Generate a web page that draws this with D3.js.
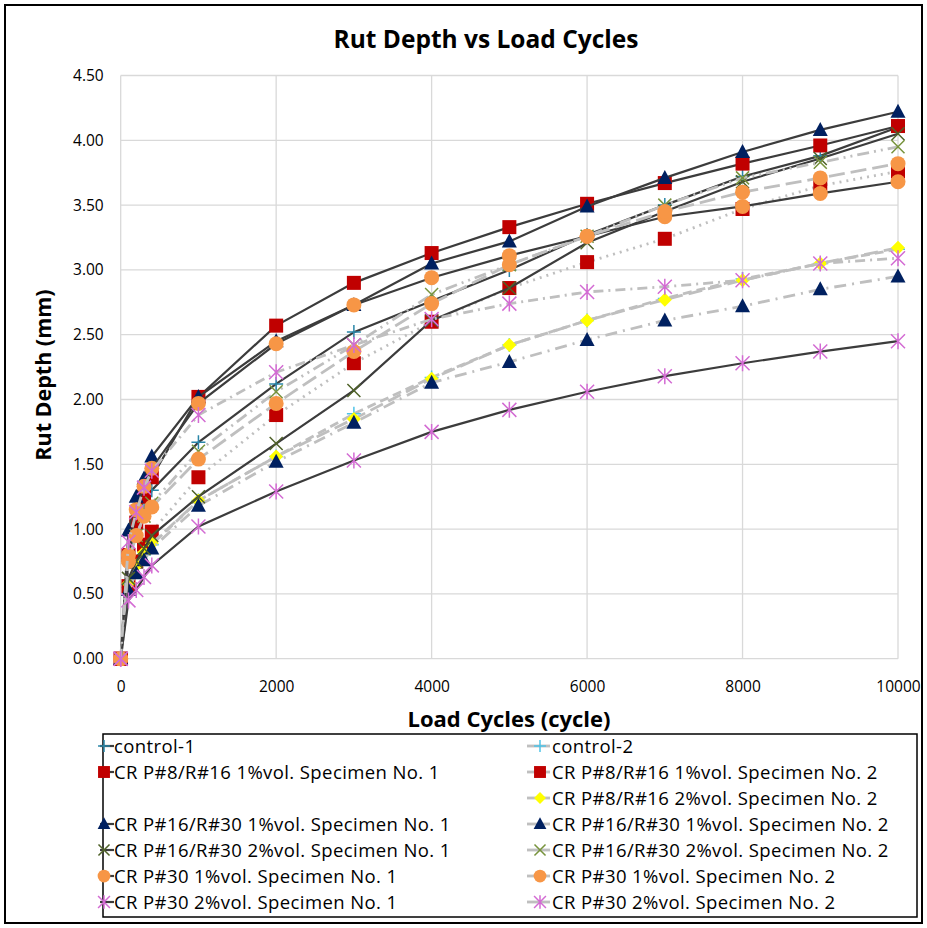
<!DOCTYPE html>
<html><head><meta charset="utf-8">
<script src="https://cdn.jsdelivr.net/npm/d3@7"></script>
<style>body{margin:0;background:#fff} svg{display:block}</style>
</head><body><svg id="c" width="927" height="928"></svg>
<script>
// ---- data ----
const cycles = [0,100,200,300,400,1000,2000,3000,4000,5000,6000,7000,8000,9000,10000];
const control1   = [0,0.75,1.00,1.15,1.30,1.67,2.12,2.52,2.76,3.00,3.27,3.50,3.72,3.88,4.10];
const control2   = [0,0.55,0.70,0.80,0.88,1.22,1.56,1.89,2.17,2.42,2.61,2.78,2.93,3.05,3.16];
const p8r16_1_s1 = [0,0.80,1.05,1.25,1.40,2.02,2.57,2.90,3.13,3.33,3.51,3.67,3.82,3.96,4.11];
const p8r16_1_s2 = [0,0.56,0.75,0.88,0.98,1.40,1.88,2.28,2.60,2.86,3.06,3.24,3.47,3.65,3.76];
const p8r16_2_s2 = [0,0.58,0.72,0.82,0.89,1.22,1.56,1.85,2.16,2.42,2.61,2.77,2.92,3.05,3.17];
const p16r30_1_s1= [0,0.99,1.25,1.39,1.56,2.02,2.45,2.73,3.05,3.22,3.49,3.71,3.91,4.08,4.22];
const p16r30_1_s2= [0,0.53,0.66,0.76,0.85,1.18,1.52,1.82,2.13,2.29,2.46,2.61,2.72,2.85,2.95];
const p16r30_2_s1= [0,0.62,0.75,0.85,0.95,1.25,1.66,2.07,2.61,2.86,3.21,3.45,3.68,3.86,4.05];
const p16r30_2_s2= [0,0.78,0.95,1.10,1.20,1.60,2.06,2.42,2.81,3.04,3.26,3.50,3.71,3.83,3.95];
const p30_1_s1   = [0,0.80,1.15,1.33,1.47,1.97,2.43,2.73,2.94,3.11,3.26,3.41,3.49,3.59,3.68];
const p30_1_s2   = [0,0.75,0.95,1.10,1.17,1.54,1.97,2.37,2.74,3.04,3.26,3.45,3.60,3.71,3.82];
const p30_2_s1   = [0,0.45,0.53,0.63,0.72,1.02,1.29,1.53,1.75,1.92,2.06,2.18,2.28,2.37,2.45];
const p30_2_s2   = [0,0.90,1.13,1.32,1.45,1.88,2.21,2.42,2.62,2.74,2.83,2.87,2.92,3.05,3.09];
const yTicks = [0,0.5,1,1.5,2,2.5,3,3.5,4,4.5];
const xTicks = [0,2000,4000,6000,8000,10000];

// series definitions (order = drawing order); slot = legend position
const series = [
  {name:"control-1", v:control1, solid:true, m:"plus", c:"#2a86a8", slot:[0,0]},
  {name:"control-2", v:control2, solid:false, dash:"9,5", m:"plus", c:"#4fc3e8", slot:[0,1]},
  {name:"CR P#8/R#16 1%vol. Specimen No. 1", v:p8r16_1_s1, solid:true, m:"square", c:"#C00000", slot:[1,0]},
  {name:"CR P#8/R#16 1%vol. Specimen No. 2", v:p8r16_1_s2, solid:false, dash:"2,5", m:"square", c:"#C00000", slot:[1,1]},
  {name:"CR P#8/R#16 2%vol. Specimen No. 2", v:p8r16_2_s2, solid:false, dash:"14,6", m:"diamond", c:"#FFFF00", slot:[2,1]},
  {name:"CR P#16/R#30 1%vol. Specimen No. 1", v:p16r30_1_s1, solid:true, m:"triangle", c:"#002060", slot:[3,0]},
  {name:"CR P#16/R#30 1%vol. Specimen No. 2", v:p16r30_1_s2, solid:false, dash:"12,6,2,6", m:"triangle", c:"#002060", slot:[3,1]},
  {name:"CR P#16/R#30 2%vol. Specimen No. 1", v:p16r30_2_s1, solid:true, m:"x", c:"#4F6228", slot:[4,0]},
  {name:"CR P#16/R#30 2%vol. Specimen No. 2", v:p16r30_2_s2, solid:false, dash:"12,5,2,5,2,5", m:"x", c:"#77933C", slot:[4,1]},
  {name:"CR P#30 1%vol. Specimen No. 1", v:p30_1_s1, solid:true, m:"circle", c:"#F79646", slot:[5,0]},
  {name:"CR P#30 1%vol. Specimen No. 2", v:p30_1_s2, solid:false, dash:"16,6", m:"circle", c:"#F79646", slot:[5,1]},
  {name:"CR P#30 2%vol. Specimen No. 1", v:p30_2_s1, solid:true, m:"star", c:"#D36BD3", slot:[6,0]},
  {name:"CR P#30 2%vol. Specimen No. 2", v:p30_2_s2, solid:false, dash:"10,5,2,5", m:"star", c:"#D36BD3", slot:[6,1]}
];

const svg = d3.select("#c");
const FONT = "'Open Sans', Lato, sans-serif";
svg.append("rect").attr("x",5).attr("y",5).attr("width",917).attr("height",918)
  .attr("fill","#fff").attr("stroke","#000").attr("stroke-width",2);

const x = d3.scaleLinear().domain([0,10000]).range([120.7,898]);
const y = d3.scaleLinear().domain([0,4.5]).range([658.7,75.5]);

// gridlines
const g = svg.append("g");
g.selectAll("line.h").data(yTicks).join("line")
  .attr("x1",x(0)).attr("x2",x(10000)).attr("y1",d=>y(d)).attr("y2",d=>y(d))
  .attr("stroke","#d9d9d9").attr("stroke-width",1.3);
g.selectAll("line.v").data(xTicks).join("line")
  .attr("y1",y(0)).attr("y2",y(4.5)).attr("x1",d=>x(d)).attr("x2",d=>x(d))
  .attr("stroke","#d9d9d9").attr("stroke-width",1.3);

// axes (labels only)
const yAxis = d3.axisLeft(y).tickValues(yTicks).tickFormat(d3.format(".2f")).tickSize(0).tickPadding(17);
const ya = svg.append("g").attr("transform",`translate(${x(0)},0)`).call(yAxis);
const xAxis = d3.axisBottom(x).tickValues(xTicks).tickFormat(d3.format("d")).tickSize(0).tickPadding(22);
const xa = svg.append("g").attr("transform",`translate(0,${y(0)})`).call(xAxis);
[ya,xa].forEach(a=>{a.select(".domain").remove();
  a.selectAll("text").attr("font-family",FONT).attr("font-size",15.5).attr("fill","#000");});

// titles
svg.append("text").attr("x",486).attr("y",48).attr("text-anchor","middle")
  .attr("font-family",FONT).attr("font-weight","bold").attr("font-size",24.5).text("Rut Depth vs Load Cycles");
svg.append("text").attr("x",509).attr("y",727).attr("text-anchor","middle")
  .attr("font-family",FONT).attr("font-weight","bold").attr("font-size",22).text("Load Cycles (cycle)");
svg.append("text").attr("transform","translate(51,375) rotate(-90)").attr("text-anchor","middle")
  .attr("font-family",FONT).attr("font-weight","bold").attr("font-size",21.5).text("Rut Depth (mm)");

// markers
function drawMarker(sel, m, c, s){
  s = s || 1;
  if(m==="square") sel.append("rect").attr("x",-7*s).attr("y",-7*s).attr("width",14*s).attr("height",14*s).attr("fill",c);
  else if(m==="triangle") sel.append("path").attr("d",`M0,${-8*s}L${7.5*s},${6*s}L${-7.5*s},${6*s}Z`).attr("fill",c);
  else if(m==="circle") sel.append("circle").attr("r",7.5*s).attr("fill",c);
  else if(m==="diamond") sel.append("path").attr("d",`M0,${-7*s}L${7*s},0L0,${7*s}L${-7*s},0Z`).attr("fill",c);
  else if(m==="plus") sel.append("path").attr("d",`M${-7*s},0H${7*s}M0,${-7*s}V${7*s}`).attr("stroke",c).attr("stroke-width",1.5).attr("fill","none");
  else if(m==="x") sel.append("path").attr("d",`M${-6.5*s},${-6.5*s}L${6.5*s},${6.5*s}M${6.5*s},${-6.5*s}L${-6.5*s},${6.5*s}`).attr("stroke",c).attr("stroke-width",1.5).attr("fill","none");
  else if(m==="star") sel.append("path").attr("d",`M${-7*s},${-7*s}L${7*s},${7*s}M${7*s},${-7*s}L${-7*s},${7*s}M0,${-8*s}V${8*s}`).attr("stroke",c).attr("stroke-width",1.5).attr("fill","none");
}

const line = d3.line().x((d,i)=>x(cycles[i])).y(d=>y(d));
const plot = svg.append("g");
series.forEach(s=>{
  const gg = plot.append("g");
  gg.append("path").attr("d",line(s.v)).attr("fill","none")
    .attr("stroke", s.solid ? "#3c3c3c" : "#bfbfbf")
    .attr("stroke-width", s.solid ? 2.2 : 2.8)
    .attr("stroke-dasharray", s.solid ? null : s.dash);
  s.v.forEach((v,i)=>{
    const mk = gg.append("g").attr("transform",`translate(${x(cycles[i])},${y(v)})`);
    drawMarker(mk, s.m, s.c);
  });
});

// legend
svg.append("rect").attr("x",103).attr("y",734).attr("width",814).attr("height",183)
  .attr("fill","#fff").attr("stroke","#000").attr("stroke-width",1.5);
const rowY = r => 746 + r*26;
series.forEach(s=>{
  const [r,col] = s.slot;
  const cy = rowY(r);
  const lx0 = col===0 ? 100 : 527, lx1 = col===0 ? 114 : 550, mx = col===0 ? 104 : 540;
  const tx = col===0 ? 114 : 552;
  svg.append("line").attr("x1",lx0).attr("x2",lx1).attr("y1",cy).attr("y2",cy)
    .attr("stroke", s.solid ? "#3c3c3c" : "#bfbfbf").attr("stroke-width", s.solid?2.2:2.8);
  const mk = svg.append("g").attr("transform",`translate(${mx},${cy})`);
  drawMarker(mk, s.m, s.c, 0.85);
  svg.append("text").attr("x",tx).attr("y",cy).attr("dy","0.36em")
    .attr("font-family",FONT).attr("font-size",18.5).attr("letter-spacing",0.4).attr("fill","#000").text(s.name);
});
</script></body></html>
